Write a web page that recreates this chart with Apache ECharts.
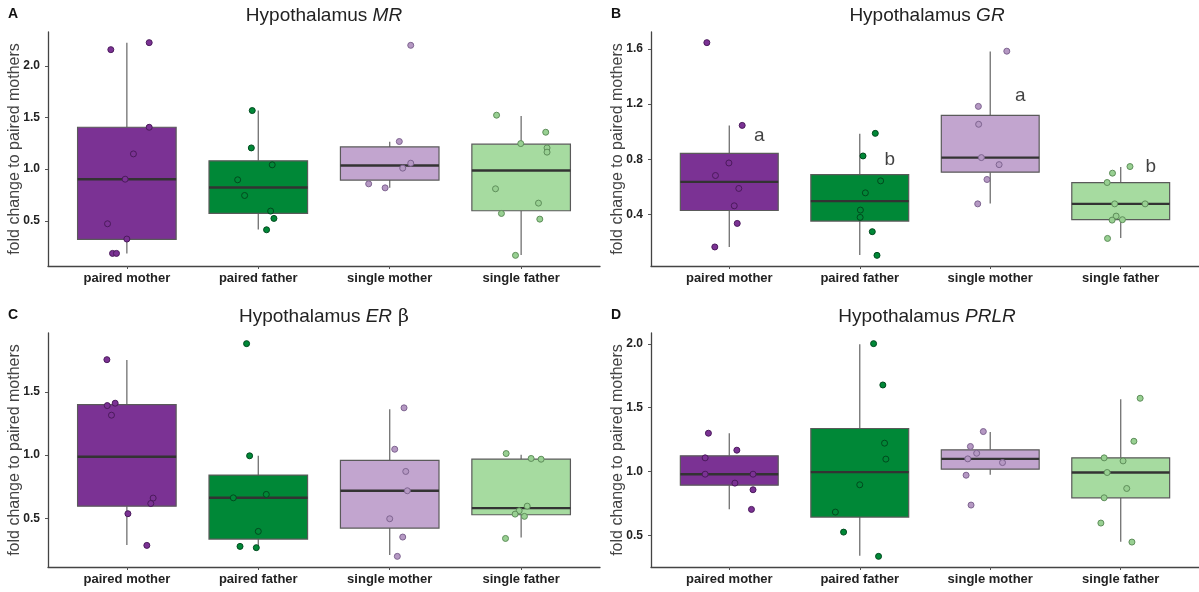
<!DOCTYPE html>
<html>
<head>
<meta charset="utf-8">
<script src="https://cdn.jsdelivr.net/npm/echarts@6/dist/echarts.min.js"></script>
<style>
  html, body { margin: 0; padding: 0; background: #ffffff; }
  #chart { width: 1199px; height: 592px; }
</style>
</head>
<body>
<div id="chart"></div>
<script>
// Groups and their colours
const groups = ['paired mother', 'paired father', 'single mother', 'single father'];
const boxColors = ['#7B3294', '#008837', '#C2A5CF', '#A6DBA0'];
const pointFill = ['#7B3294', '#008837', '#B598C3', '#98D092'];
const pointStroke = ['#4B1A5C', '#004A1E', '#7E6490', '#5E8E5A'];

// ---- Hypothalamus MR ----
// box statistics per group: [lower whisker, Q1, median, Q3, upper whisker]
const mrStats = [
  [0.184, 0.319, 0.903, 1.406, 2.226],
  [0.416, 0.571, 0.823, 1.081, 1.568],
  [0.819, 0.894, 1.035, 1.216, 1.265],
  [0.168, 0.597, 0.987, 1.242, 1.516]
];
const mrValues = [
  [2.158, 2.226, 1.406, 1.148, 0.903, 0.471, 0.323, 0.184, 0.184],
  [1.568, 1.206, 1.042, 0.897, 0.745, 0.594, 0.523, 0.413],
  [2.200, 1.268, 1.058, 1.010, 0.858, 0.819],
  [1.523, 1.358, 1.248, 1.206, 1.165, 0.810, 0.671, 0.571, 0.516, 0.165]
];
const mrJitter = [
  [-0.122, 0.170, 0.170, 0.050, -0.013, -0.147, 0.000, -0.109, -0.079],
  [-0.046, -0.053, 0.106, -0.157, -0.104, 0.094, 0.119, 0.063],
  [0.160, 0.073, 0.160, 0.099, -0.160, -0.035],
  [-0.187, 0.187, -0.003, 0.197, 0.197, -0.195, 0.132, -0.150, 0.142, -0.043]
];
const mrTicks = [0.5, 1.0, 1.5, 2.0];

// ---- Hypothalamus GR ----
const grStats = [
  [0.163, 0.428, 0.636, 0.843, 1.046],
  [0.105, 0.351, 0.496, 0.689, 0.986],
  [0.479, 0.706, 0.812, 1.119, 1.582],
  [0.228, 0.361, 0.476, 0.631, 0.744]
];
const grValues = [
  [1.647, 1.046, 0.773, 0.682, 0.588, 0.462, 0.334, 0.163],
  [0.988, 0.824, 0.643, 0.556, 0.431, 0.378, 0.274, 0.102],
  [1.585, 1.184, 1.054, 0.812, 0.761, 0.653, 0.476],
  [0.747, 0.699, 0.631, 0.476, 0.476, 0.387, 0.361, 0.358, 0.225]
];
const grJitter = [
  [-0.172, 0.099, -0.003, -0.106, 0.073, 0.038, 0.061, -0.111],
  [0.119, 0.025, 0.160, 0.043, 0.005, 0.003, 0.096, 0.132],
  [0.127, -0.091, -0.089, -0.068, 0.068, -0.025, -0.096],
  [0.071, -0.063, -0.104, -0.046, 0.187, -0.035, 0.013, -0.066, -0.101]
];
const grTicks = [0.4, 0.8, 1.2, 1.6];
// significance letters drawn beside each GR box
const grLetters = ['a', 'b', 'a', 'b'];
const grLetterY = [0.974, 0.798, 1.259, 0.744];

// ---- Hypothalamus ER beta ----
const erStats = [
  [0.288, 0.596, 0.987, 1.401, 1.755],
  [0.267, 0.335, 0.662, 0.842, 0.995],
  [0.208, 0.422, 0.718, 0.958, 1.364],
  [0.348, 0.528, 0.580, 0.968, 1.003]
];
const erValues = [
  [1.757, 1.393, 1.412, 1.317, 0.660, 0.617, 0.536, 0.285],
  [1.884, 0.995, 0.662, 0.689, 0.396, 0.277, 0.267],
  [1.375, 1.047, 0.871, 0.718, 0.496, 0.351, 0.198],
  [1.013, 0.974, 0.968, 0.596, 0.559, 0.533, 0.515, 0.340]
];
const erJitter = [
  [-0.152, -0.149, -0.089, -0.117, 0.200, 0.182, 0.008, 0.152],
  [-0.089, -0.066, -0.190, 0.061, 0.000, -0.139, -0.015],
  [0.109, 0.038, 0.122, 0.134, 0.000, 0.099, 0.058],
  [-0.114, 0.076, 0.152, 0.046, -0.015, -0.046, 0.025, -0.119]
];
const erTicks = [0.5, 1.0, 1.5];

// ---- Hypothalamus PRLR ----
const prlrStats = [
  [0.705, 0.893, 0.979, 1.123, 1.300],
  [0.340, 0.643, 0.995, 1.337, 1.997],
  [0.974, 1.018, 1.099, 1.170, 1.310],
  [0.450, 0.794, 0.992, 1.107, 1.566]
];
const prlrValues = [
  [1.300, 1.167, 1.107, 0.979, 0.979, 0.909, 0.857, 0.703],
  [2.002, 1.678, 1.222, 1.097, 0.896, 0.682, 0.525, 0.335],
  [1.313, 1.196, 1.143, 1.099, 1.070, 0.971, 0.737],
  [1.574, 1.237, 1.107, 1.083, 0.992, 0.867, 0.794, 0.596, 0.447]
];
const prlrJitter = [
  [-0.160, 0.058, -0.185, -0.185, 0.182, 0.043, 0.182, 0.170],
  [0.106, 0.177, 0.190, 0.200, 0.000, -0.187, -0.124, 0.144],
  [-0.053, -0.152, -0.104, -0.172, 0.094, -0.185, -0.147],
  [0.149, 0.101, -0.127, 0.018, -0.104, 0.046, -0.127, -0.152, 0.086]
];
const prlrTicks = [0.5, 1.0, 1.5, 2.0];

const yTitle = 'fold change to paired mothers';
const FONT = '"Liberation Sans", Arial, Helvetica, sans-serif';

// panel frames (plot area of each grid)
const panels = [
  { key: 'A', stats: mrStats, values: mrValues, jitter: mrJitter, ticks: mrTicks, gene: [['i', 'MR']],
    grid: { left: 48, top: 32, width: 552, height: 234 } },
  { key: 'B', stats: grStats, values: grValues, jitter: grJitter, ticks: grTicks, gene: [['i', 'GR']],
    grid: { left: 651, top: 32, width: 552, height: 234 } },
  { key: 'C', stats: erStats, values: erValues, jitter: erJitter, ticks: erTicks, gene: [['i', 'ER'], ['g', ' \u03B2']],
    grid: { left: 48, top: 333, width: 552, height: 234 } },
  { key: 'D', stats: prlrStats, values: prlrValues, jitter: prlrJitter, ticks: prlrTicks, gene: [['i', 'PRLR']],
    grid: { left: 651, top: 333, width: 552, height: 234 } }
];

// y range: data extent widened by 5% on each side
function yRange(stats, values) {
  let lo = Infinity, hi = -Infinity;
  stats.forEach(s => s.forEach(v => { lo = Math.min(lo, v); hi = Math.max(hi, v); }));
  values.forEach(g => g.forEach(v => { lo = Math.min(lo, v); hi = Math.max(hi, v); }));
  const pad = (hi - lo) * 0.05;
  return [lo - pad, hi + pad];
}

function renderBox(params, api) {
  const x = api.value(0);
  const lo = api.coord([x, api.value(1)]);
  const q1 = api.coord([x, api.value(2)]);
  const md = api.coord([x, api.value(3)]);
  const q3 = api.coord([x, api.value(4)]);
  const hi = api.coord([x, api.value(5)]);
  const half = api.size([0.75, 0])[0] / 2;
  const color = boxColors[params.dataIndex];
  return {
    type: 'group',
    children: [
      { type: 'line', shape: { x1: lo[0], y1: lo[1], x2: q1[0], y2: q1[1] },
        style: { stroke: '#707070', lineWidth: 1.3 } },
      { type: 'line', shape: { x1: q3[0], y1: q3[1], x2: hi[0], y2: hi[1] },
        style: { stroke: '#707070', lineWidth: 1.3 } },
      { type: 'rect', shape: { x: q3[0] - half, y: q3[1], width: half * 2, height: q1[1] - q3[1] },
        style: { fill: color, stroke: '#5a5a5a', lineWidth: 1.2 } },
      { type: 'line', shape: { x1: md[0] - half, y1: md[1], x2: md[0] + half, y2: md[1] },
        style: { stroke: '#333333', lineWidth: 2.4 } }
    ]
  };
}

const grids = [], xAxes = [], yAxes = [], series = [], graphics = [];

panels.forEach((p, i) => {
  grids.push(Object.assign({ containLabel: false }, p.grid));
  const [ymin, ymax] = yRange(p.stats, p.values);

  xAxes.push({
    type: 'value', gridIndex: i, min: 0.4, max: 4.6,
    splitLine: { show: false },
    axisLine: { show: true, lineStyle: { color: '#444', width: 1.3 } },
    axisTick: { show: true, customValues: [1, 2, 3, 4], length: 3, lineStyle: { color: '#555' } },
    axisLabel: {
      customValues: [1, 2, 3, 4], margin: 6,
      formatter: v => groups[Math.round(v) - 1] || '',
      fontFamily: FONT, fontWeight: 'bold', fontSize: 13, color: '#222'
    }
  });

  yAxes.push({
    type: 'value', gridIndex: i, min: ymin, max: ymax,
    splitLine: { show: false },
    axisLine: { show: true, lineStyle: { color: '#444', width: 1.3 } },
    axisTick: { show: true, customValues: p.ticks, length: 3, lineStyle: { color: '#555' } },
    axisLabel: {
      customValues: p.ticks, margin: 8,
      formatter: v => v.toFixed(1),
      fontFamily: FONT, fontWeight: 'bold', fontSize: 12, color: '#222'
    },
    name: yTitle, nameLocation: 'middle', nameGap: 25.5, nameMoveOverlap: false,
    nameTextStyle: { fontFamily: FONT, fontSize: 16, color: '#444' }
  });

  series.push({
    type: 'custom', xAxisIndex: i, yAxisIndex: i,
    renderItem: renderBox,
    encode: { x: 0, y: [1, 2, 3, 4, 5] },
    data: p.stats.map((s, g) => [g + 1].concat(s)),
    z: 2, silent: true
  });

  p.values.forEach((vals, g) => {
    series.push({
      type: 'scatter', xAxisIndex: i, yAxisIndex: i,
      symbolSize: 6,
      itemStyle: { color: pointFill[g], borderColor: pointStroke[g], borderWidth: 1, opacity: 1 },
      data: vals.map((v, k) => [g + 1 + p.jitter[g][k], v]),
      z: 3, silent: true
    });
  });

  // panel title
  const cx = p.grid.left + p.grid.width / 2;
  const ty = p.grid.top - 16;
  let text = '{n|Hypothalamus }';
  p.gene.forEach(([style, s]) => { text += '{' + style + '|' + s + '}'; });
  graphics.push({
    type: 'text', x: cx, y: ty,
    style: {
      text: text, align: 'center', verticalAlign: 'middle',
      rich: {
        n: { fontFamily: FONT, fontSize: 19, fill: '#222' },
        i: { fontFamily: FONT, fontSize: 19, fontStyle: 'italic', fill: '#222' },
        g: { fontFamily: '"DejaVu Serif", "Liberation Serif", serif', fontSize: 19, fill: '#222' }
      }
    }
  });
  // panel letter
  graphics.push({
    type: 'text', x: p.grid.left - 40, y: p.grid.top - 17.5,
    style: { text: p.key, align: 'left', verticalAlign: 'middle',
      font: 'bold 14px ' + FONT, fill: '#111' }
  });
});

// significance letters on the GR panel
series.push({
  type: 'scatter', xAxisIndex: 1, yAxisIndex: 1,
  symbolSize: 0, silent: true, z: 4,
  data: grLetterY.map((y, g) => [g + 1 + 0.23, y]),
  label: {
    show: true, position: 'inside',
    formatter: prm => grLetters[prm.dataIndex],
    fontFamily: FONT, fontSize: 19, color: '#111'
  }
});

const chart = echarts.init(document.getElementById('chart'), null, { renderer: 'canvas' });
chart.setOption({
  backgroundColor: '#ffffff',
  animation: false,
  grid: grids,
  xAxis: xAxes,
  yAxis: yAxes,
  series: series,
  graphic: graphics
});
</script>
</body>
</html>
